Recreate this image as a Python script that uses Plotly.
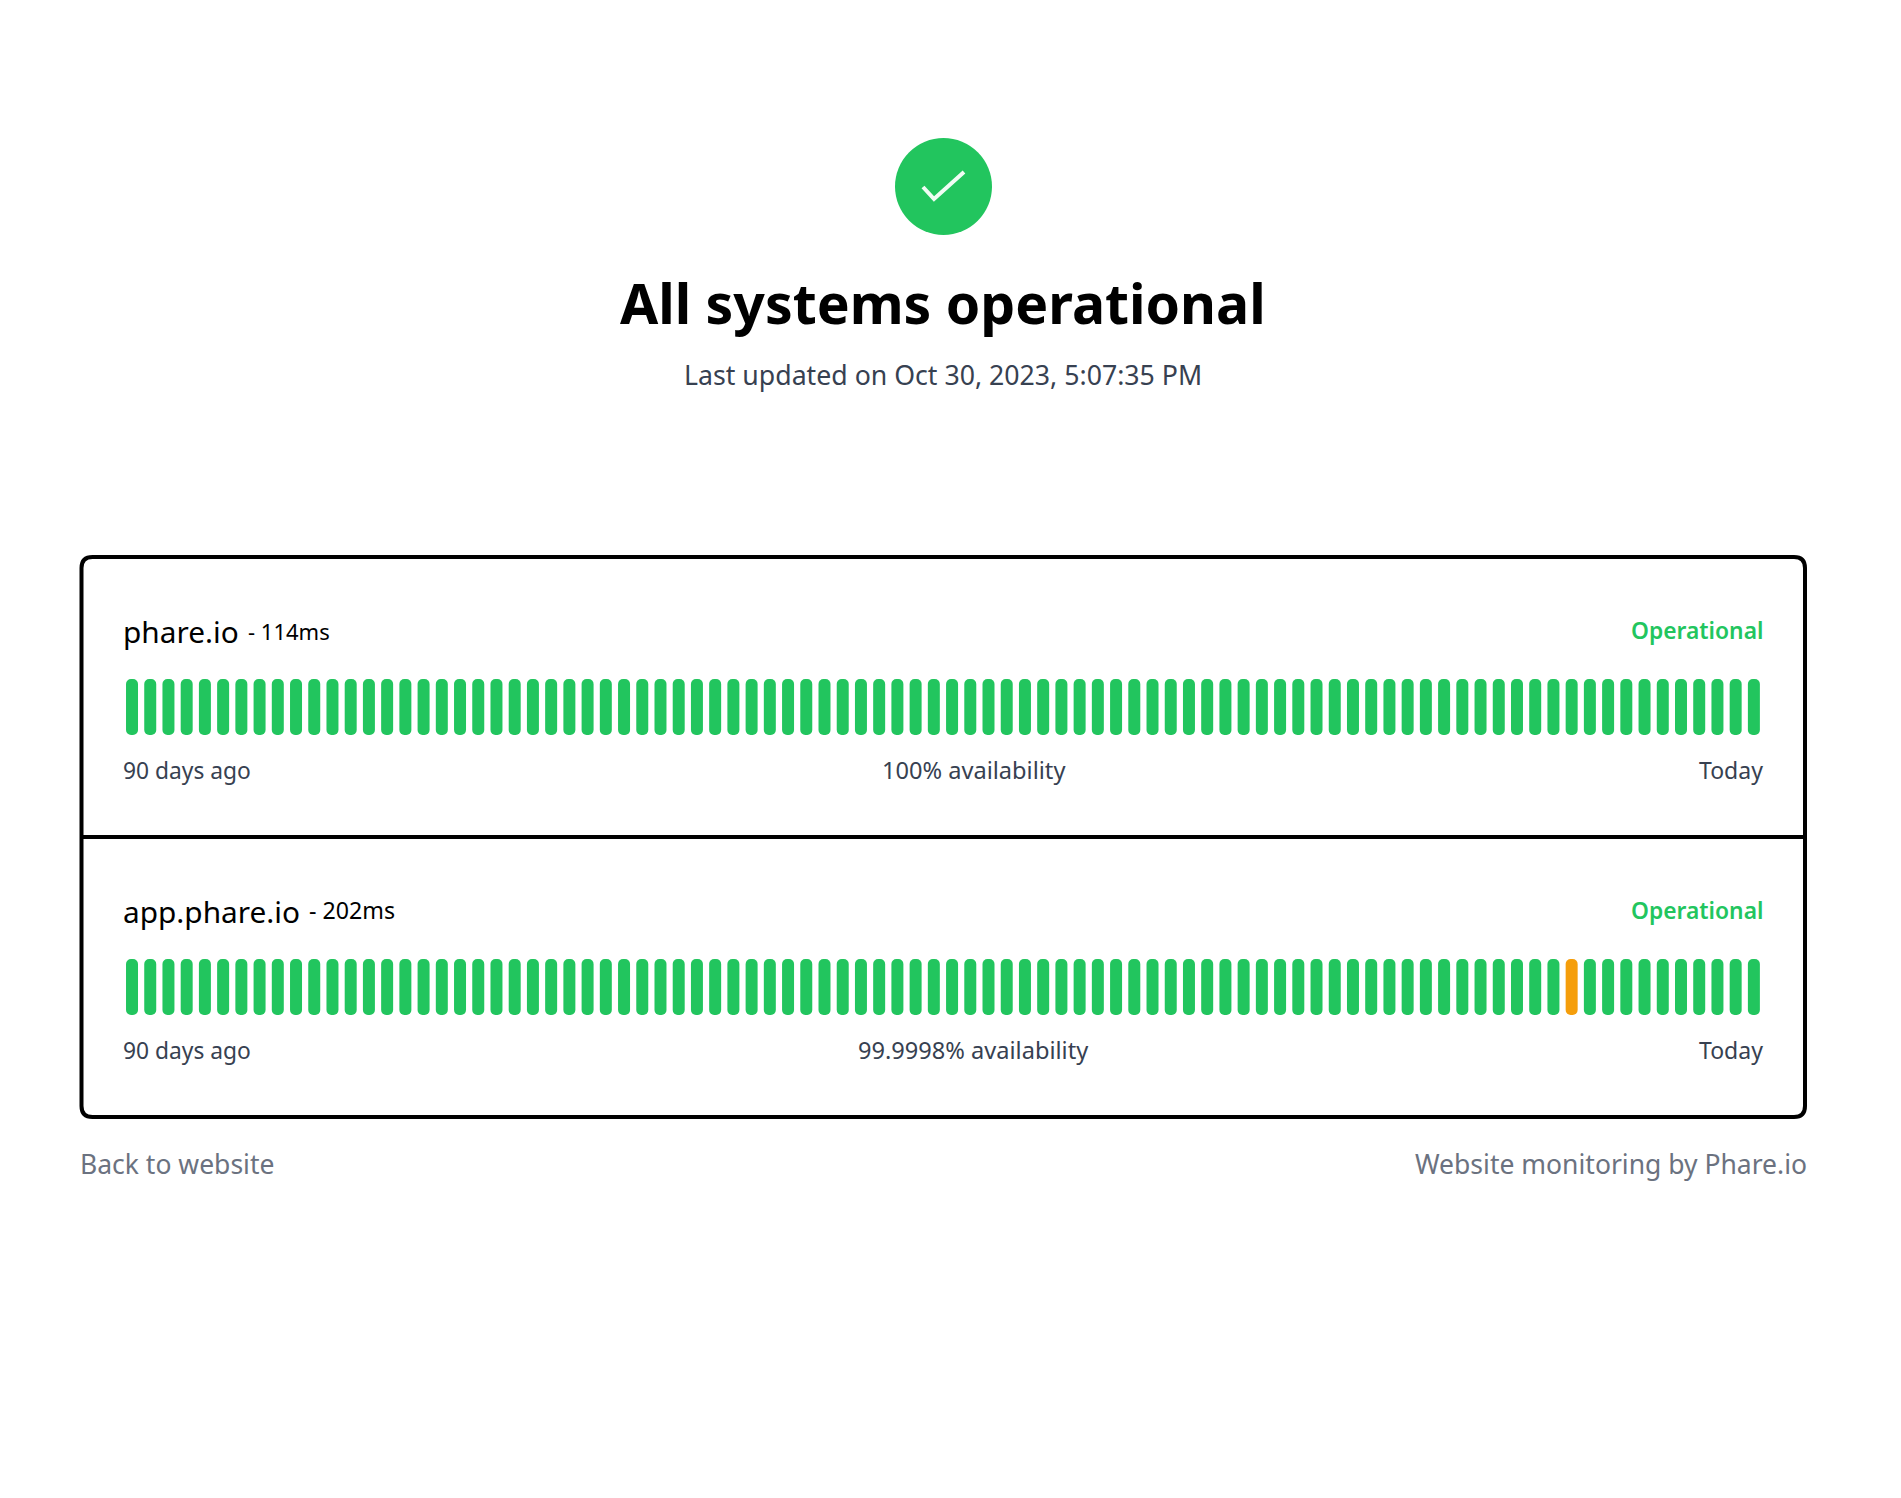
#!/usr/bin/env python3
import plotly.graph_objects as go

# the page body keeps the browser's 8px margin around the plot
PAGE_W = 1901
PAGE_H = 1498
BODY = 8
GREEN = '#22c55e'
ORANGE = '#f59e0b'

days = list(range(1, 91))
# one entry per day, 1 = the day has a bar
phare_uptime = [1, 1, 1, 1, 1, 1, 1, 1, 1, 1, 1, 1, 1, 1, 1, 1, 1, 1, 1, 1, 1, 1, 1, 1, 1, 1, 1, 1, 1, 1,
                1, 1, 1, 1, 1, 1, 1, 1, 1, 1, 1, 1, 1, 1, 1, 1, 1, 1, 1, 1, 1, 1, 1, 1, 1, 1, 1, 1, 1, 1,
                1, 1, 1, 1, 1, 1, 1, 1, 1, 1, 1, 1, 1, 1, 1, 1, 1, 1, 1, 1, 1, 1, 1, 1, 1, 1, 1, 1, 1, 1]
app_uptime = [1, 1, 1, 1, 1, 1, 1, 1, 1, 1, 1, 1, 1, 1, 1, 1, 1, 1, 1, 1, 1, 1, 1, 1, 1, 1, 1, 1, 1, 1,
              1, 1, 1, 1, 1, 1, 1, 1, 1, 1, 1, 1, 1, 1, 1, 1, 1, 1, 1, 1, 1, 1, 1, 1, 1, 1, 1, 1, 1, 1,
              1, 1, 1, 1, 1, 1, 1, 1, 1, 1, 1, 1, 1, 1, 1, 1, 1, 1, 1, 1, 1, 1, 1, 1, 1, 1, 1, 1, 1, 1]
incident_days = [80]

sites = ['phare.io', 'app.phare.io']
latencies = ['- 114ms', '- 202ms']
availabilities = ['100% availability', '99.9998% availability']


def px(x):
    return (x - BODY) / (PAGE_W - 2 * BODY)


def py(y):
    return 1 - (y - BODY) / (PAGE_H - 2 * BODY)


def label(x, y, text, size, color='#374151', anchor='left', weight=400, family='Noto Sans'):
    fig.add_annotation(x=px(x), y=py(y), xref='paper', yref='paper', text=text, showarrow=False,
                       xanchor=anchor, yanchor='middle', borderpad=0,
                       font=dict(family=family, size=size, color=color, weight=weight))


def add_bars(values, colors, xaxis, yaxis):
    # two halves growing from the middle, so both ends of a bar get the rounded corners
    fig.add_trace(go.Bar(x=days, y=[v / 2 for v in values], xaxis=xaxis, yaxis=yaxis, width=0.658,
                         marker=dict(color=colors, line_width=0)))
    fig.add_trace(go.Bar(x=days, y=[-v / 2 for v in values], xaxis=xaxis, yaxis=yaxis, width=0.658,
                         marker=dict(color=colors, line_width=0)))


fig = go.Figure()
add_bars(phare_uptime, GREEN, 'x', 'y')
add_bars(app_uptime, [ORANGE if d in incident_days else GREEN for d in days], 'x2', 'y2')

x_domain = [px(122.9), px(1763)]
hidden = dict(visible=False, fixedrange=True)
fig.update_layout(
    width=PAGE_W - 2 * BODY, height=PAGE_H - 2 * BODY, autosize=False, showlegend=False,
    margin=dict(l=0, r=0, t=0, b=0), paper_bgcolor='white', plot_bgcolor='rgba(0,0,0,0)',
    barmode='overlay', barcornerradius=6,
    xaxis=dict(domain=x_domain, range=[0.5, 90.5], **hidden),
    xaxis2=dict(domain=x_domain, range=[0.5, 90.5], anchor='y2', **hidden),
    yaxis=dict(domain=[py(735), py(679)], range=[-0.5, 0.5], **hidden),
    yaxis2=dict(domain=[py(1015), py(959)], range=[-0.5, 0.5], anchor='x2', **hidden),
)

# status icon
fig.add_shape(type='circle', xref='paper', yref='paper', x0=px(895), x1=px(992), y0=py(235), y1=py(138),
              fillcolor=GREEN, line_width=0)
fig.add_shape(type='path', xref='paper', yref='paper',
              path=f'M {px(923)} {py(187)} L {px(934)} {py(199)} L {px(964)} {py(172)}',
              line=dict(color='#f0fdf4', width=4))

# card outline and divider
r = 11
x0, x1, y0, y1 = 81.5, 1805, 557, 1117
fig.add_shape(type='path', xref='paper', yref='paper',
              path=(f'M {px(x0 + r)} {py(y0)} L {px(x1 - r)} {py(y0)} Q {px(x1)} {py(y0)} {px(x1)} {py(y0 + r)} '
                    f'L {px(x1)} {py(y1 - r)} Q {px(x1)} {py(y1)} {px(x1 - r)} {py(y1)} '
                    f'L {px(x0 + r)} {py(y1)} Q {px(x0)} {py(y1)} {px(x0)} {py(y1 - r)} '
                    f'L {px(x0)} {py(y0 + r)} Q {px(x0)} {py(y0)} {px(x0 + r)} {py(y0)} Z'),
              line=dict(color='black', width=4))
fig.add_shape(type='line', xref='paper', yref='paper', x0=px(x0), x1=px(x1), y0=py(837), y1=py(837),
              line=dict(color='black', width=4))

label(943, 303, 'All systems operational', 55.3, color='black', anchor='center', weight=700)
label(943, 375, 'Last updated on Oct 30, 2023, 5:07:35 PM', 26.7, anchor='center')

rows = [632, 912]
latency_x = [247, 308]
latency_size = [22, 23.2]
for i in range(2):
    label(121.5, rows[i] - 1, sites[i], 29.8, color='black')
    label(latency_x[i], rows[i] - 1.5, latencies[i], latency_size[i], color='black')
    label(1764, rows[i] - 1.5, 'Operational', 22.8, color=GREEN, anchor='right', weight=600)
    label(121.5, rows[i] + 138, '90 days ago', 22.8)
    label(974, rows[i] + 138, availabilities[i], 23.6, anchor='center')
    label(1764, rows[i] + 138, 'Today', 23, anchor='right')

label(78.5, 1164, 'Back to website', 26.5, color='#6b7280')
label(1808, 1164, 'Website monitoring by Phare.io', 26.5, color='#6b7280', anchor='right')

fig.write_html("out.html")
